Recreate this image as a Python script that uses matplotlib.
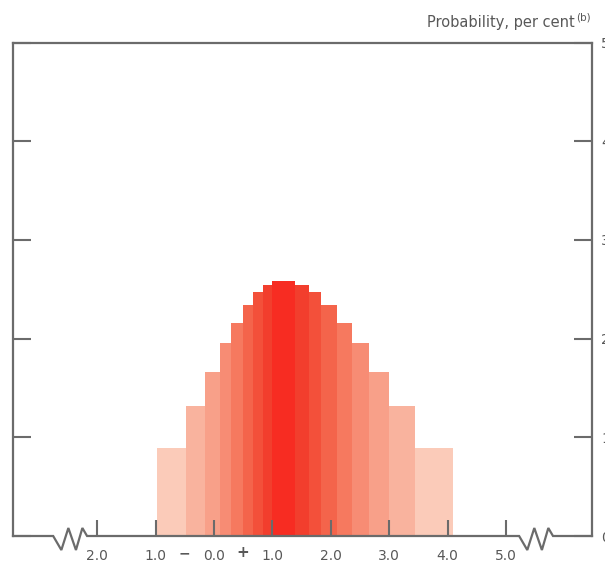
import numpy as np
import matplotlib
matplotlib.use("Agg")
import matplotlib.pyplot as plt

# bar edges (percentage points) and probability heights (per cent)
edges = [-0.97, -0.48, -0.15, 0.10, 0.29, 0.49, 0.66, 0.84, 0.99,
         1.39, 1.62, 1.84, 2.10, 2.37, 2.66, 3.00, 3.44, 4.10]
heights = [0.89, 1.32, 1.66, 1.96, 2.16, 2.34, 2.47, 2.54, 2.58,
           2.54, 2.47, 2.34, 2.16, 1.96, 1.66, 1.32, 0.89]
# shades from outer band to central band
shades = ['#fbcbb9', '#f9b39e', '#f8a089', '#f78c74', '#f6795f',
          '#f4644b', '#f3503a', '#f23e2d', '#f72c22']

x_ticks = [-2, -1, 0, 1, 2, 3, 4, 5]
x_labels = ['2.0', '1.0', '0.0', '1.0', '2.0', '3.0', '4.0', '5.0']
y_ticks = [0, 1, 2, 3, 4, 5]

axis_grey = '#6b6b6b'
text_grey = '#585858'

fig = plt.figure(figsize=(6.05, 5.69), dpi=100)
ax = fig.add_axes([13 / 605, 33 / 569, 579 / 605, 493.5 / 569])

lefts = np.array(edges[:-1])
widths = np.diff(edges)
n = len(heights)
colors = [shades[min(i, n - 1 - i)] for i in range(n)]
ax.bar(lefts, heights, width=widths, align='edge', color=colors,
       edgecolor='none', linewidth=0, zorder=1)

ax.set_xlim(-3.442, 6.473)
ax.set_ylim(0, 5)

for side in ['left', 'top', 'right']:
    ax.spines[side].set_color(axis_grey)
    ax.spines[side].set_linewidth(1.6)
ax.spines['bottom'].set_visible(False)


# bottom axis line with two zig-zag break marks
def zigzag(x0):
    dx = [0, 0.14, 0.26, 0.39, 0.50, 0.58]
    dy = [0, -0.142, 0.081, -0.142, 0.081, 0]
    return [x0 + d for d in dx], dy


zl_x, zl_y = zigzag(-2.754)
zr_x, zr_y = zigzag(5.225)
line_x = [-3.442] + zl_x + zr_x + [6.473]
line_y = [0] + zl_y + zr_y + [0]
ax.plot(line_x, line_y, color=axis_grey, lw=1.6, clip_on=False,
        solid_joinstyle='miter', zorder=3)

ax.set_xticks(x_ticks)
ax.set_xticklabels(x_labels)
ax.tick_params(axis='x', direction='in', length=11.5, width=1.5,
               color=axis_grey, pad=9, labelsize=10, labelcolor=text_grey)
ax.text(-0.5, -0.18, '\u2212', ha='center', va='center', fontsize=10,
        color=text_grey, fontweight='bold')
ax.text(0.49, -0.17, '+', ha='center', va='center', fontsize=11,
        color=text_grey, fontweight='bold')

ax.set_yticks(y_ticks)
ax.tick_params(axis='y', which='both', direction='in', length=13, width=1.5,
               color=axis_grey, left=True, right=True,
               labelleft=False, labelright=True, pad=6.5,
               labelsize=10, labelcolor=text_grey)

fig.text(575 / 605, 1 - 27 / 569, 'Probability, per cent', ha='right',
         va='baseline', fontsize=10.5, color=text_grey)
fig.text(576 / 605, 1 - 21 / 569, '(b)', ha='left', va='baseline',
         fontsize=7.5, color=text_grey)

fig.savefig('out.png', dpi=100)
